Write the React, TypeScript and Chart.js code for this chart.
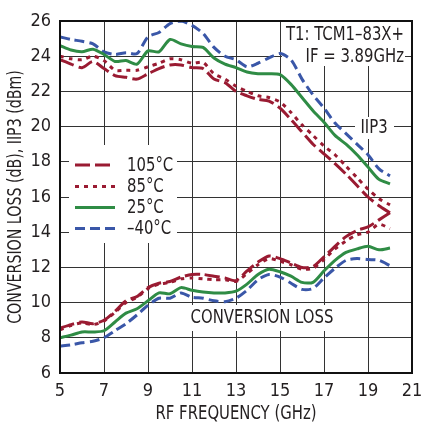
import React, { useEffect, useRef } from 'react';
import { Chart, registerables } from 'chart.js';

Chart.register(...registerables);

const freqGHz = [5, 5.5, 6, 6.5, 7, 7.5, 8, 8.5, 9, 9.5, 10, 10.5, 11, 11.5, 12, 12.5, 13, 13.5, 14, 14.5, 15, 15.5, 16, 16.5, 17, 17.5, 18, 18.5, 19, 19.5, 20];

const iip3_105 = [23.8, 23.55, 23.35, 23.7, 23.3, 22.9, 22.8, 22.7, 23.0, 23.3, 23.5, 23.5, 23.35, 23.3, 22.7, 22.5, 22.0, 21.75, 21.55, 21.45, 21.05, 20.4, 19.7, 19.0, 18.45, 17.9, 17.3, 16.65, 16.0, 15.5, 15.1];
const iip3_85 = [24.0, 23.85, 23.8, 24.0, 23.75, 23.2, 23.2, 23.2, 23.4, 23.6, 23.85, 23.8, 23.6, 23.65, 23.0, 22.7, 22.3, 22.0, 21.75, 21.65, 21.4, 20.8, 20.1, 19.5, 18.9, 18.4, 17.75, 17.1, 16.45, 15.9, 15.55];
const iip3_25 = [24.6, 24.35, 24.25, 24.4, 24.1, 23.7, 23.75, 23.55, 24.3, 24.25, 24.95, 24.7, 24.55, 24.5, 23.9, 23.55, 23.35, 23.1, 23.0, 23.0, 22.95, 22.4, 21.65, 20.9, 20.25, 19.5, 19.0, 18.4, 17.7, 17.0, 16.75];
const iip3_m40 = [25.1, 24.95, 24.85, 24.7, 24.25, 24.1, 24.2, 24.15, 25.1, 25.35, 25.85, 26.0, 25.75, 25.3, 24.5, 24.0, 23.8, 23.4, 23.6, 23.9, 24.15, 23.8, 22.7, 21.8, 21.05, 20.2, 19.6, 19.0, 18.4, 17.6, 17.2];

const cl_105 = [8.55, 8.75, 8.9, 8.8, 9.0, 9.5, 10.1, 10.35, 10.85, 11.1, 11.2, 11.45, 11.6, 11.6, 11.5, 11.4, 11.25, 11.8, 12.3, 12.65, 12.5, 12.25, 12.0, 12.05, 12.6, 13.2, 13.75, 14.1, 14.3, 14.7, 15.1];
const cl_85 = [8.45, 8.7, 8.85, 8.75, 8.95, 9.45, 10.0, 10.3, 10.8, 11.05, 11.15, 11.35, 11.4, 11.35, 11.3, 11.3, 11.2, 11.65, 12.15, 12.5, 12.35, 12.15, 11.9, 11.95, 12.45, 13.05, 13.5, 13.85, 14.0, 14.45, 14.2];
const cl_25 = [8.0, 8.15, 8.33, 8.33, 8.4, 8.9, 9.4, 9.65, 10.1, 10.55, 10.5, 10.85, 10.7, 10.6, 10.55, 10.55, 10.65, 11.05, 11.6, 11.9, 11.75, 11.5, 11.15, 11.15, 11.8, 12.4, 12.85, 13.05, 13.2, 13.0, 13.1];
const cl_m40 = [7.53, 7.6, 7.72, 7.8, 8.0, 8.4, 8.8, 9.3, 9.85, 10.25, 10.25, 10.55, 10.3, 10.25, 10.1, 10.05, 10.25, 10.7, 11.3, 11.6, 11.45, 11.1, 10.75, 10.8, 11.4, 11.95, 12.4, 12.5, 12.45, 12.4, 12.1];

const legendLabels = ['105°C', '85°C', '25°C', '–40°C'];
const xTitle = 'RF FREQUENCY (GHz)';
const yTitle = 'CONVERSION LOSS (dB), IIP3 (dBm)';
const noteLine1 = 'T1: TCM1–83X+';
const noteLine2 = 'IF = 3.89GHz';
const iip3Label = 'IIP3';
const clLabel = 'CONVERSION LOSS';

const RED = '#9a1b32';
const GREEN = '#2f8c45';
const BLUE = '#3a57a8';
const TEXT = '#231f20';
const FONT_FAMILY = '"Liberation Sans Narrow", "DejaVu Sans Condensed", "Liberation Sans", sans-serif';
const SQUEEZE = 0.87;

const styles = [
  { color: RED, dash: [15, 5] },
  { color: RED, dash: [4, 5] },
  { color: GREEN, dash: [] as number[] },
  { color: BLUE, dash: [10, 5] },
];

const toPoints = (ys: number[]) => ys.map((y, i) => ({ x: freqGHz[i], y }));

function drawText(ctx: CanvasRenderingContext2D, text: string, x: number, y: number, align: CanvasTextAlign, rotate = 0, squeeze = SQUEEZE) {
  ctx.save();
  ctx.translate(x, y);
  if (rotate) ctx.rotate(rotate);
  ctx.scale(squeeze, 1);
  ctx.textAlign = align;
  ctx.textBaseline = 'middle';
  ctx.fillText(text, 0, 0);
  ctx.restore();
}

const overlayPlugin = {
  id: 'overlay',
  beforeDatasetsDraw(chart: any) {
    const { ctx, chartArea } = chart;
    ctx.save();
    ctx.fillStyle = '#fff';
    ctx.fillRect(69, 145, 108, 98);
    ctx.fillRect(282, chartArea.top + 1, 123, 44);
    ctx.fillRect(355, 117, 39, 22);
    ctx.fillRect(186, 305, 152, 26);

    ctx.font = `19px ${FONT_FAMILY}`;
    ctx.fillStyle = TEXT;
    const rowsY = [165, 186.5, 207.5, 228.5];
    styles.forEach((s, i) => {
      ctx.save();
      ctx.strokeStyle = s.color;
      ctx.lineWidth = 3;
      ctx.setLineDash(s.dash);
      ctx.beginPath();
      ctx.moveTo(75, rowsY[i]);
      ctx.lineTo(115, rowsY[i]);
      ctx.stroke();
      ctx.restore();
      drawText(ctx, legendLabels[i], 127, rowsY[i] + 1, 'left');
    });
    drawText(ctx, noteLine1, 404, 35, 'right');
    drawText(ctx, noteLine2, 404, 57, 'right');
    drawText(ctx, iip3Label, 374, 128, 'center');
    drawText(ctx, clLabel, 262, 318, 'center');
    ctx.restore();
  },
  afterDraw(chart: any) {
    const { ctx, chartArea } = chart;
    ctx.save();
    ctx.strokeStyle = '#111';
    ctx.lineWidth = 2;
    ctx.strokeRect(chartArea.left, chartArea.top, chartArea.right - chartArea.left, chartArea.bottom - chartArea.top);
    ctx.font = `19px ${FONT_FAMILY}`;
    ctx.fillStyle = TEXT;
    const cx = (chartArea.left + chartArea.right) / 2;
    const cy = (chartArea.top + chartArea.bottom) / 2;
    drawText(ctx, xTitle, cx, 414, 'center');
    drawText(ctx, yTitle, 16, cy, 'center', -Math.PI / 2, 0.83);
    ctx.restore();
  },
};

export default function App() {
  const ref = useRef<HTMLCanvasElement | null>(null);
  useEffect(() => {
    if (!ref.current) return;
    const series = [
      { data: iip3_105, s: 0 },
      { data: cl_105, s: 0 },
      { data: iip3_85, s: 1 },
      { data: cl_85, s: 1 },
      { data: iip3_25, s: 2 },
      { data: cl_25, s: 2 },
      { data: iip3_m40, s: 3 },
      { data: cl_m40, s: 3 },
    ];
    const chart = new Chart(ref.current, {
      type: 'line',
      data: {
        datasets: series.map((d) => ({
          label: legendLabels[d.s],
          data: toPoints(d.data),
          borderColor: styles[d.s].color,
          borderDash: styles[d.s].dash,
          borderWidth: 3,
          pointRadius: 0,
          tension: 0.25,
          fill: false,
        })),
      },
      options: {
        responsive: false,
        animation: false,
        layout: { padding: { top: 21, right: 10, left: 0, bottom: 0 } },
        plugins: { legend: { display: false }, tooltip: { enabled: false } },
        scales: {
          x: {
            type: 'linear',
            min: 5,
            max: 21,
            ticks: { stepSize: 2, color: TEXT, font: { size: 18, family: FONT_FAMILY }, padding: 8 },
            grid: { color: '#333', lineWidth: 1, drawTicks: false },
            border: { display: true, color: '#111', width: 2 },
            title: { display: false },
            afterFit: (s: any) => { s.height = 50; s.paddingLeft = 0; s.paddingRight = 0; },
          },
          y: {
            type: 'linear',
            min: 6,
            max: 26,
            ticks: { stepSize: 2, color: TEXT, font: { size: 18, family: FONT_FAMILY }, padding: 9 },
            grid: { color: '#333', lineWidth: 1, drawTicks: false },
            border: { display: true, color: '#111', width: 2 },
            title: { display: false },
            afterFit: (s: any) => { s.width = 60; s.paddingTop = 0; s.paddingBottom = 0; },
          },
        },
      },
      plugins: [overlayPlugin],
    });
    return () => chart.destroy();
  }, []);
  return (
    <div style={{ position: 'absolute', left: 0, top: 0, width: 422, height: 423, background: '#fff' }}>
      <canvas ref={ref} width={422} height={423} style={{ display: 'block' }} />
    </div>
  );
}
